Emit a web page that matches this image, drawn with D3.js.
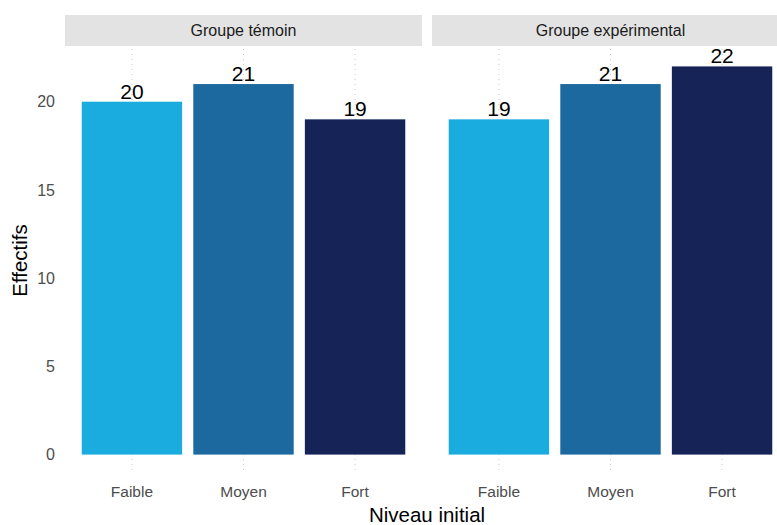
<!DOCTYPE html>
<html><head><meta charset="utf-8">
<script src="https://cdn.jsdelivr.net/npm/d3@7"></script>
<style>body{margin:0;background:#fff}svg{display:block;font-family:"Liberation Sans",Arial,sans-serif}</style>
</head><body>
<svg id="c" width="777" height="525"></svg>
<script>
const groups = ["Groupe témoin", "Groupe expérimental"];
const levels = ["Faible", "Moyen", "Fort"];
const temoinValues = [20, 21, 19];
const experimentalValues = [19, 21, 22];
const yTicks = [0, 5, 10, 15, 20];
const colors = ["#1aabdf", "#1b699e", "#152357"];

const seriesByGroup = [temoinValues, experimentalValues];
const svg = d3.select("#c");
const panelTop = 47, panelBottom = 474;
const stripTop = 15;
const panelW = 357, gap = 10, left0 = 65;
const maxV = d3.max(seriesByGroup.flat());

const y = d3.scaleLinear().domain([-maxV*0.05, maxV*1.05]).range([panelBottom, panelTop]);

svg.append("g").selectAll("text").data(yTicks).join("text")
  .attr("x", 55).attr("y", d => y(d)).attr("dy", "0.35em")
  .attr("text-anchor", "end").attr("fill", "#4d4d4d").attr("font-size", 16)
  .text(d => d);

groups.forEach((g, gi) => {
  const x0 = left0 + gi * (panelW + gap);
  const x = d3.scaleBand().domain(levels).range([x0, x0 + panelW]).paddingInner(0.1).paddingOuter(0.15);
  const pg = svg.append("g");
  pg.append("rect").attr("x", x0).attr("y", stripTop).attr("width", panelW).attr("height", panelTop - stripTop - 1).attr("fill", "#e3e3e3");
  pg.append("text").attr("x", x0 + panelW/2).attr("y", (stripTop + panelTop - 1)/2).attr("dy", "0.35em")
    .attr("text-anchor", "middle").attr("font-size", 16).attr("fill", "#1a1a1a").text(g);
  pg.append("g").selectAll("line").data(levels).join("line")
    .attr("x1", d => x(d) + x.bandwidth()/2).attr("x2", d => x(d) + x.bandwidth()/2)
    .attr("y1", panelTop + 2).attr("y2", panelBottom)
    .attr("stroke", "#c8c8c8").attr("stroke-width", 1).attr("stroke-dasharray", "1,4");
  const vals = seriesByGroup[gi];
  pg.append("g").selectAll("rect").data(levels).join("rect")
    .attr("x", d => x(d)).attr("width", x.bandwidth())
    .attr("y", (d, i) => y(vals[i])).attr("height", (d, i) => y(0) - y(vals[i]))
    .attr("fill", (d, i) => colors[i]);
  pg.append("g").selectAll("text").data(levels).join("text")
    .attr("x", d => x(d) + x.bandwidth()/2).attr("y", (d, i) => y(vals[i]) - 3)
    .attr("text-anchor", "middle").attr("font-size", 21).attr("fill", "#000")
    .text((d, i) => vals[i]);
  pg.append("g").selectAll("text.xt").data(levels).join("text")
    .attr("x", d => x(d) + x.bandwidth()/2).attr("y", 492).attr("dy", "0.35em")
    .attr("text-anchor", "middle").attr("font-size", 15.5).attr("fill", "#4d4d4d")
    .text(d => d);
});

svg.append("text").attr("x", left0 + (2*panelW + gap)/2).attr("y", 522)
  .attr("text-anchor", "middle").attr("font-size", 20.5).attr("fill", "#000").text("Niveau initial");
svg.append("text").attr("transform", `translate(27,${(panelTop+panelBottom)/2}) rotate(-90)`)
  .attr("text-anchor", "middle").attr("font-size", 20.5).attr("fill", "#000").text("Effectifs");
</script>
</body></html>
